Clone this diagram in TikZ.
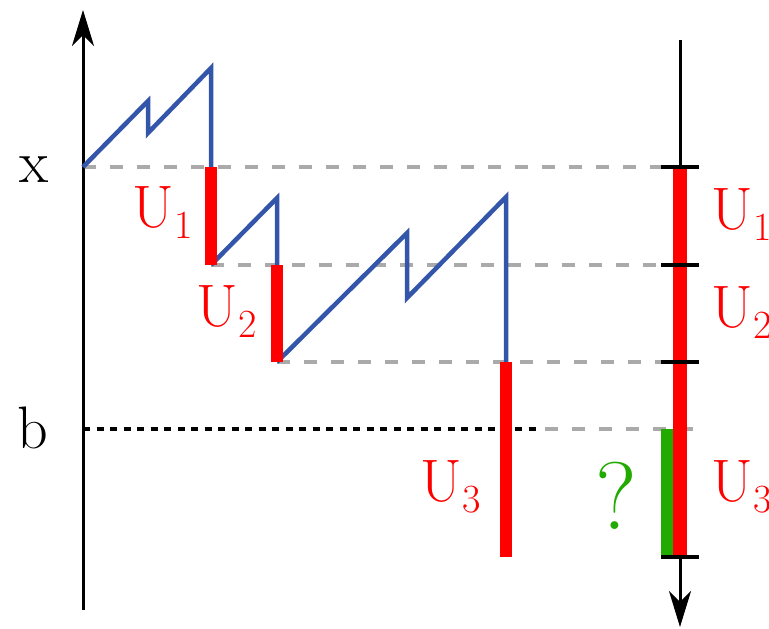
\documentclass[tikz,border=0pt]{standalone}
\usetikzlibrary{arrows.meta}
\definecolor{pblue}{RGB}{51,85,170}
\definecolor{pred}{RGB}{255,0,0}
\definecolor{pgreen}{RGB}{34,170,0}
\definecolor{pgrey}{RGB}{170,170,170}
\newcommand{\Usub}[1]{U\kern1pt\raisebox{-11pt}{\fontsize{40}{42}\selectfont #1}}
\tikzset{
  axisline/.style={line width=3pt, black},
  tipstyle/.style={-{Stealth[length=36pt,width=22pt,inset=11pt]}},
  walk/.style={line width=4.5pt, pblue, line join=miter},
  jump/.style={line width=12pt, pred},
  guide/.style={line width=3.5pt, pgrey, dash pattern=on 13pt off 14pt},
  level/.style={line width=3.5pt, black, dash pattern=on 7pt off 6.5pt},
  tickmark/.style={line width=4pt, black},
  lab/.style={inner sep=0pt, font=\fontsize{60}{64}\selectfont},
  ulab/.style={lab, text=pred},
}
\begin{document}
\begin{tikzpicture}[x=1pt,y=-1pt]
\useasboundingbox (0,0) rectangle (769,629);
% named points
\coordinate (Lbot) at (83,610);
\coordinate (Ltop) at (83,10);
\coordinate (P0) at (83,167);
\coordinate (P1) at (148,101);
\coordinate (P2) at (148,133);
\coordinate (P3) at (211,68);
\coordinate (P4) at (211,167);
\coordinate (P5) at (211,265);
\coordinate (P6) at (277,198);
\coordinate (P7) at (277,265);
\coordinate (P8) at (277,362);
\coordinate (P9) at (407,233);
\coordinate (P10) at (407,298);
\coordinate (P11) at (506,197);
\coordinate (P12) at (506,362);
\coordinate (P13) at (506,557);
\coordinate (Rtop) at (680,40);
\coordinate (Rbot) at (680,627);
\coordinate (R1) at (680,167);
\coordinate (R2) at (680,265);
\coordinate (R3) at (680,362);
\coordinate (R4) at (680,557);
\coordinate (G1) at (667,429);
\coordinate (G2) at (667,557);
\coordinate (B0) at (83,429);
\coordinate (B1) at (537,429);
\coordinate (B2) at (545,429);
\coordinate (B3) at (700,429);
% guides
\draw[guide] (P0) -- (661,167);
\draw[guide] (P5) -- (661,265);
\draw[guide] (P8) -- (661,362);
\draw[guide] (B2) -- (B3);
\draw[level] (B0) -- (B1);
% axes
\draw[axisline, tipstyle] (Lbot) -- (Ltop);
\draw[axisline, tipstyle] (Rtop) -- (Rbot);
% walk
\draw[walk] (P0) -- (P1) -- (P2) -- (P3) -- (P4);
\draw[walk] (P5) -- (P6) -- (P7);
\draw[walk] (P8) -- (P9) -- (P10) -- (P11) -- (P12);
\draw[jump] (P4) -- (P5);
\draw[jump] (P7) -- (P8);
\draw[jump] (P12) -- (P13);
% right bar
\draw[line width=12pt, pgreen] (G1) -- (G2);
\draw[line width=14pt, pred] (R1) -- (R4);
\foreach \t in {R1,R2,R3,R4} \draw[tickmark] ([xshift=-19pt]\t) -- ([xshift=19pt]\t);
% labels
\node[lab] (lx) at (34,170) {x};
\node[lab] (lb) at (33,428) {b};
\node[ulab, anchor=base west] (u1) at (132,227) {\Usub{1}};
\node[ulab, anchor=base west] (u2) at (196,326) {\Usub{2}};
\node[ulab, anchor=base west] (u3) at (420,501) {\Usub{3}};
\node[ulab, anchor=base west] (ru1) at (711,229) {\Usub{1}};
\node[ulab, anchor=base west] (ru2) at (711,327) {\Usub{2}};
\node[ulab, anchor=base west] (ru3) at (711,501) {\Usub{3}};
\node[inner sep=0pt, text=pgreen, font=\fontsize{96}{98}\selectfont] (q) at (616,496) {?};
\end{tikzpicture}
\end{document}
